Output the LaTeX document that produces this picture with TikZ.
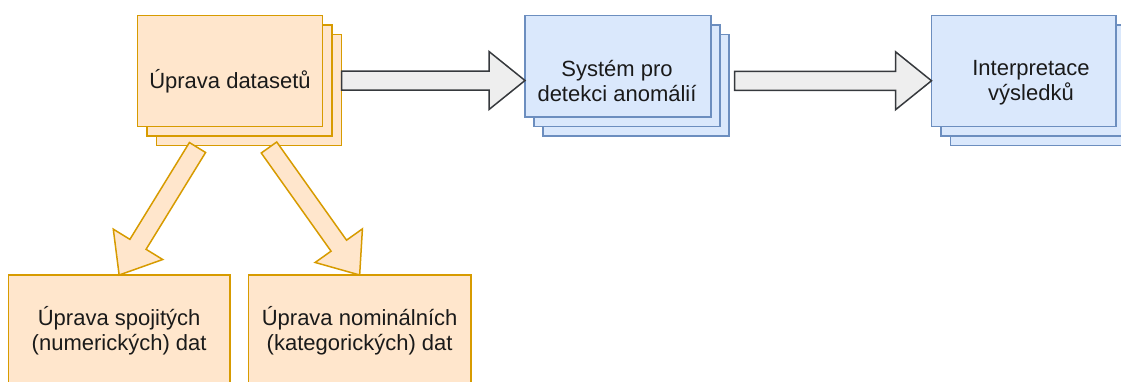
\documentclass[tikz,border=0pt]{standalone}
\usepackage{fontspec}
\setmainfont{Liberation Sans}
\usetikzlibrary{calc}
\definecolor{orfill}{HTML}{FFE6CC}
\definecolor{orline}{HTML}{D79B00}
\definecolor{blfill}{HTML}{DAE8FC}
\definecolor{blline}{HTML}{6C8EBF}
\definecolor{grfill}{HTML}{EEEEEE}
\definecolor{grline}{HTML}{36393D}
\definecolor{ink}{HTML}{1A1A1A}

% Block arrow from #2 (tail centre) to #3 (tip), extra options in #1
\newcommand{\fatArrow}[3][]{%
  \coordinate (fa-base) at ($(#3)!36pt!(#2)$);
  \draw[fatshape,#1]
    ($(#2)!9.5pt!90:(#3)$) -- ($(fa-base)!9.5pt!90:(#3)$)
    -- ($(fa-base)!29pt!90:(#3)$) -- (#3)
    -- ($(fa-base)!29pt!-90:(#3)$) -- ($(fa-base)!9.5pt!-90:(#3)$)
    -- ($(#2)!9.5pt!-90:(#3)$) -- cycle;}

\begin{document}
\begin{tikzpicture}[x=1pt,y=-1pt,
  box/.style={rectangle, inner sep=0pt, outer sep=0pt, line width=1.6pt},
  orange box/.style={box, fill=orfill, draw=orline},
  blue box/.style={box, fill=blfill, draw=blline},
  lbl/.style={font=\fontsize{22}{25}\selectfont, text=ink, align=center, inner sep=0pt},
  fatshape/.style={line width=1.5pt, line join=miter},
  gray arrow/.style={fill=grfill, draw=grline},
  orange arrow/.style={fill=orfill, draw=orline}]

\path[use as bounding box] (0,0) rectangle (1121,381);
\clip (0,0) rectangle (1121,381);

% stacked block: dataset preparation
\foreach \k in {2,1}
  \node[orange box, minimum width=185pt, minimum height=111pt]
    (datasets-\k) at ($(230,71)+(\k*9.5,\k*9.5)$) {};
\node[orange box, minimum width=185pt, minimum height=111pt] (datasets) at (230,71) {};
\node[lbl] (datasets-lbl) at (230,81) {Úprava datasetů};

% stacked block: detection system
\foreach \k in {2,1}
  \node[blue box, minimum width=186pt, minimum height=101.5pt]
    (detect-\k) at ($(618,66.25)+(\k*9,\k*9.5)$) {};
\node[blue box, minimum width=186pt, minimum height=101.5pt] (detect) at (618,66.25) {};
\node[lbl] (detect-lbl) at (617,81) {Systém pro\\detekci anomálií};

% stacked block: interpretation
\foreach \k in {2,1}
  \node[blue box, minimum width=184.5pt, minimum height=111pt]
    (results-\k) at ($(1023.75,71)+(\k*9.5,\k*9.5)$) {};
\node[blue box, minimum width=184.5pt, minimum height=111pt] (results) at (1023.75,71) {};
\node[lbl] (results-lbl) at (1031,82.3) {Interpretace\\výsledků};

% lower blocks
\node[orange box, minimum width=221.7pt, minimum height=111pt, lbl, inner sep=0pt]
  (numeric) at (119.15,330.5) {Úprava spojitých\\(numerických) dat};
\node[orange box, minimum width=222.7pt, minimum height=111pt, lbl, inner sep=0pt]
  (nominal) at (359.65,330.5) {Úprava nominálních\\(kategorických) dat};

% horizontal block arrows
\coordinate (a1-tail) at ($(datasets.east)+(19,9.5)$);
\coordinate (a1-tip) at (detect.west |- a1-tail);
\fatArrow[gray arrow]{a1-tail}{a1-tip}
\coordinate (a2-tail) at ($(detect.east)+(23.5,14.5)$);
\coordinate (a2-tip) at (results.west |- a2-tail);
\fatArrow[gray arrow]{a2-tail}{a2-tip}

% slanted block arrows
\coordinate (d1-tail) at ($(datasets.south)+(-32.5,21)$);
\fatArrow[orange arrow]{d1-tail}{numeric.north}
\coordinate (d2-tail) at ($(datasets.south)+(39,21)$);
\fatArrow[orange arrow]{d2-tail}{nominal.north}
\end{tikzpicture}
\end{document}
